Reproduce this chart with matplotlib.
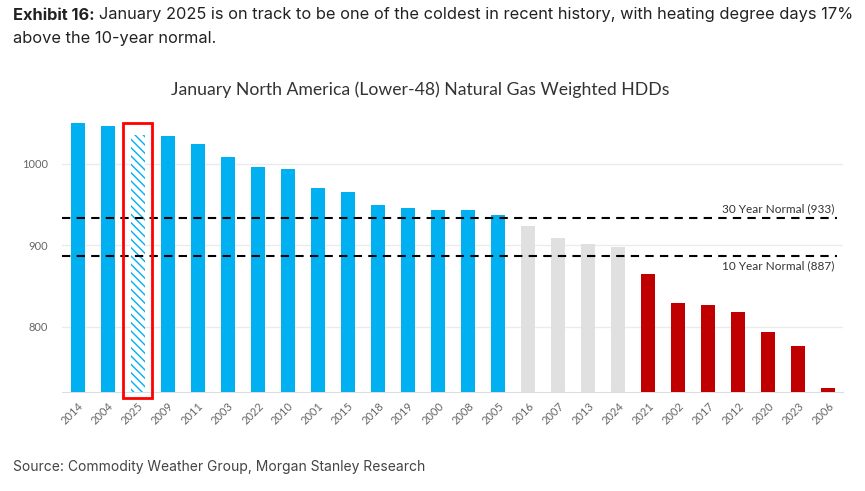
import matplotlib
matplotlib.use("Agg")
import matplotlib.pyplot as plt
from matplotlib.patches import Rectangle

years = ["2014", "2004", "2025", "2009", "2011", "2003", "2022", "2010", "2001", "2015",
         "2018", "2019", "2000", "2008", "2005", "2016", "2007", "2013", "2024", "2021",
         "2002", "2017", "2012", "2020", "2023", "2006"]
hdds = [1051, 1047, 1036, 1035, 1024, 1008, 996, 994, 970, 965,
        950, 946, 943, 943, 937, 924, 909, 902, 898, 865,
        829, 827, 818, 793, 776, 724]
groups = ["above"] * 15 + ["mid"] * 4 + ["below"] * 7
normal_30 = 933
normal_10 = 887
highlight_year = "2025"

colors = {"above": "#00B0F0", "mid": "#E0E0E0", "below": "#C00000"}

fig = plt.figure(figsize=(8.65, 4.91), dpi=100)
ax = fig.add_axes([0.0717, 0.2022, 0.9746 - 0.0717, 0.7654 - 0.2022])

ymin, ymax = 720, 1060
x = list(range(len(years)))
for xi, yr, v, g in zip(x, years, hdds, groups):
    if yr == highlight_year:
        ax.bar(xi, v - ymin, bottom=ymin, width=0.46, facecolor="white",
               edgecolor=colors[g], hatch="\\\\\\\\", linewidth=0, zorder=3)
    else:
        ax.bar(xi, v - ymin, bottom=ymin, width=0.46, color=colors[g], zorder=3)

hi = years.index(highlight_year)
rect = Rectangle((hi - 0.5, ymin - 8), 0.97, hdds[0] - ymin + 8, fill=False,
                 edgecolor="#FF0000", linewidth=2, zorder=5, clip_on=False)
ax.add_patch(rect)

ax.plot([-0.52, 25.3], [normal_30, normal_30], ls=(0, (4, 3)), color="black", lw=1.5, zorder=4)
ax.plot([-0.52, 25.3], [normal_10, normal_10], ls=(0, (4, 3)), color="black", lw=1.5, zorder=4)
ax.text(25.2, normal_30 + 5, f"30 Year Normal ({normal_30})", ha="right", va="bottom",
        fontsize=8.5, color="#333333", family="Lato")
ax.text(25.2, normal_10 - 6, f"10 Year Normal ({normal_10})", ha="right", va="top",
        fontsize=8.5, color="#333333", family="Lato")

ax.set_xlim(-0.52, 25.49)
ax.set_ylim(ymin, ymax)
ax.set_yticks([800, 900, 1000])
ax.set_xticks(x)
ax.set_xticklabels(years, rotation=45, ha="right", rotation_mode="anchor")
ax.tick_params(axis="both", length=0, colors="#666666", labelsize=8)
ax.tick_params(axis="y", pad=10)
ax.tick_params(axis="x", pad=6)
for lbl in ax.get_xticklabels() + ax.get_yticklabels():
    lbl.set_family("Lato")
ax.grid(axis="y", color="#EBEBEB", lw=1, zorder=0)
for s in ["top", "right", "left"]:
    ax.spines[s].set_visible(False)
ax.spines["bottom"].set_color("#D9DDE5")
ax.set_axisbelow(True)

fig.text(0.4855, 1 - 90 / 491, "January North America (Lower-48) Natural Gas Weighted HDDs",
         ha="center", va="center", fontsize=12.7, color="#333333", family="Lato")

fig.text(13 / 865, 1 - 15 / 491, r"Exhibit 16:", ha="left", va="center", fontsize=11.8,
         color="#222222", family="Inter", weight="bold")
fig.text(99 / 865, 1 - 15 / 491,
         "January 2025 is on track to be one of the coldest in recent history, with heating degree days 17%",
         ha="left", va="center", fontsize=11.8, color="#222222", family="Inter")
fig.text(13 / 865, 1 - 38 / 491, "above the 10-year normal.", ha="left", va="center",
         fontsize=11.8, color="#222222", family="Inter")
fig.text(13 / 865, 1 - 467 / 491, "Source: Commodity Weather Group, Morgan Stanley Research",
         ha="left", va="center", fontsize=10, color="#444444", family="Inter")

fig.savefig("out.png", dpi=100)
